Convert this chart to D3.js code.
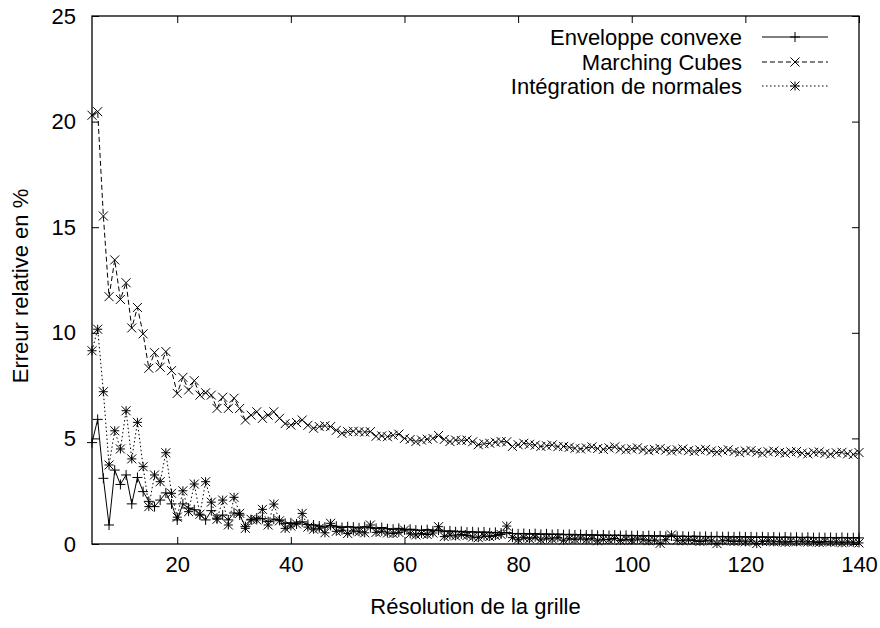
<!DOCTYPE html>
<html><head><meta charset="utf-8">
<script src="https://cdn.jsdelivr.net/npm/d3@7/dist/d3.min.js"></script>
<style>
html,body{margin:0;padding:0;background:#fff;}
svg{display:block;font-family:"Liberation Sans",Arial,Helvetica,sans-serif;}
</style></head>
<body>
<svg id="chart" width="880" height="628"></svg>
<script>
const resolutions = [5,6,7,8,9,10,11,12,13,14,15,16,17,18,19,20,21,22,23,24,25,26,27,28,29,30,31,32,33,34,35,36,37,38,39,40,41,42,43,44,45,46,47,48,49,50,51,52,53,54,55,56,57,58,59,60,61,62,63,64,65,66,67,68,69,70,71,72,73,74,75,76,77,78,79,80,81,82,83,84,85,86,87,88,89,90,91,92,93,94,95,96,97,98,99,100,101,102,103,104,105,106,107,108,109,110,111,112,113,114,115,116,117,118,119,120,121,122,123,124,125,126,127,128,129,130,131,132,133,134,135,136,137,138,139,140];

const enveloppeConvexe = [4.8,5.9,3.11,0.9,3.5,2.82,3.27,1.9,3.15,2.48,2.02,1.77,2.08,2.42,1.9,1.14,1.9,1.7,1.62,1.37,1.14,1.58,1.22,1.37,1.14,1.47,1.37,0.82,1.14,1.23,1.2,1.06,1.18,1.14,0.98,1.0,0.95,1.05,0.92,0.9,0.85,0.8,0.88,0.84,0.78,0.82,0.8,0.76,0.82,0.78,0.74,0.78,0.72,0.7,0.74,0.68,0.7,0.66,0.64,0.68,0.62,0.66,0.6,0.62,0.58,0.6,0.56,0.58,0.55,0.57,0.53,0.55,0.52,0.54,0.5,0.48,0.5,0.47,0.49,0.46,0.48,0.45,0.47,0.44,0.46,0.43,0.45,0.42,0.44,0.41,0.43,0.4,0.42,0.4,0.41,0.39,0.4,0.38,0.4,0.37,0.39,0.36,0.38,0.36,0.37,0.35,0.37,0.35,0.36,0.34,0.36,0.34,0.35,0.33,0.35,0.33,0.34,0.32,0.34,0.32,0.33,0.31,0.33,0.31,0.32,0.3,0.32,0.3,0.31,0.3,0.31,0.29,0.31,0.29,0.3,0.29];

const marchingCubes = [20.3,20.47,15.53,11.71,13.45,11.58,12.37,10.23,11.2,9.95,8.32,9.06,8.37,9.11,8.21,7.13,7.89,7.29,7.73,7.05,7.16,7.05,6.42,6.95,6.42,6.9,6.42,5.87,6.1,6.26,5.95,6.1,6.26,5.95,5.7,5.63,5.75,5.87,5.62,5.48,5.56,5.6,5.56,5.38,5.24,5.32,5.34,5.32,5.3,5.32,5.1,5.12,5.08,5.15,5.2,5.0,4.95,4.85,4.92,4.96,5.0,5.14,4.95,4.85,4.92,4.9,4.92,4.84,4.7,4.75,4.77,4.82,4.85,4.84,4.62,4.7,4.77,4.72,4.68,4.62,4.65,4.69,4.61,4.62,4.58,4.53,4.5,4.55,4.6,4.52,4.48,4.55,4.6,4.5,4.46,4.5,4.55,4.47,4.42,4.48,4.52,4.45,4.4,4.46,4.5,4.42,4.38,4.45,4.48,4.4,4.35,4.42,4.46,4.38,4.33,4.4,4.42,4.35,4.3,4.37,4.4,4.33,4.3,4.36,4.38,4.3,4.27,4.34,4.36,4.29,4.25,4.32,4.34,4.27,4.24,4.33];

const integrationNormales = [9.15,10.17,7.21,3.74,5.36,4.5,6.31,4.03,5.76,3.66,1.77,3.27,2.95,4.32,2.4,1.27,2.52,1.53,2.84,1.41,2.95,1.98,1.17,2.08,0.9,2.21,1.45,0.74,1.17,1.14,1.64,0.9,1.89,1.1,0.74,0.85,0.95,1.45,0.8,0.7,0.75,0.53,0.98,0.6,0.65,0.5,0.62,0.58,0.53,0.9,0.55,0.6,0.52,0.5,0.55,0.66,0.48,0.43,0.5,0.45,0.52,0.82,0.35,0.42,0.38,0.45,0.4,0.33,0.3,0.38,0.35,0.4,0.45,0.85,0.3,0.22,0.3,0.25,0.32,0.2,0.28,0.24,0.3,0.18,0.25,0.22,0.28,0.2,0.25,0.15,0.22,0.2,0.26,0.17,0.22,0.18,0.24,0.2,0.15,0.18,0.03,0.2,0.43,0.18,0.15,0.2,0.16,0.12,0.18,0.14,0.02,0.15,0.18,0.12,0.15,0.1,0.14,0.02,0.12,0.15,0.1,0.13,0.08,0.12,0.1,0.14,0.09,0.11,0.07,0.12,0.09,0.1,0.06,0.1,0.08,0.05];

const seriesNames = ["Enveloppe convexe","Marching Cubes","Intégration de normales"];
const xTicks = [20,40,60,80,100,120,140];
const yTicks = [0,5,10,15,20,25];
const xTitle = "Résolution de la grille";
const yTitle = "Erreur relative en %";

const svg = d3.select("#chart");
const L = 92, R = 859, T = 16, B = 544;
const x = d3.scaleLinear().domain([5,140]).range([L,R]);
const y = d3.scaleLinear().domain([0,25]).range([B,T]);
const FS = 22, TICK = 7;

const series = [
  {name: seriesNames[0], values: enveloppeConvexe, dash: null, marker: "plus"},
  {name: seriesNames[1], values: marchingCubes, dash: "5,3", marker: "cross"},
  {name: seriesNames[2], values: integrationNormales, dash: "1.5,2.5", marker: "star"}
];

function markerPath(type, cx, cy){
  const p = 5, c = 4.5;
  const plus = `M${cx-p},${cy}H${cx+p}M${cx},${cy-p}V${cy+p}`;
  const cross = `M${cx-c},${cy-c}L${cx+c},${cy+c}M${cx-c},${cy+c}L${cx+c},${cy-c}`;
  if(type==="plus") return plus;
  if(type==="cross") return cross;
  return `M${cx-c},${cy}H${cx+c}M${cx},${cy-c}V${cy+c}` + cross;
}

// axes (ticks inside, mirrored)
const gx = svg.append("g").attr("transform",`translate(0,${B})`)
  .call(d3.axisBottom(x).tickValues(xTicks).tickSizeInner(-TICK).tickSizeOuter(0).tickPadding(12));
const gxt = svg.append("g").attr("transform",`translate(0,${T})`)
  .call(d3.axisTop(x).tickValues(xTicks).tickSizeInner(-TICK).tickSizeOuter(0).tickFormat(""));
const gy = svg.append("g").attr("transform",`translate(${L},0)`)
  .call(d3.axisLeft(y).tickValues(yTicks).tickSizeInner(-TICK).tickSizeOuter(0).tickPadding(16));
const gyr = svg.append("g").attr("transform",`translate(${R},0)`)
  .call(d3.axisRight(y).tickValues(yTicks).tickSizeInner(-TICK).tickSizeOuter(0).tickFormat(""));
[gx,gxt,gy,gyr].forEach(g=>{
  g.select(".domain").remove();
  g.selectAll("line").attr("stroke","#000").attr("stroke-width",1);
  g.selectAll("text").attr("font-size",FS).attr("font-family","Liberation Sans, Arial, sans-serif").attr("fill","#000");
});
gx.selectAll("text").attr("dy","0.71em");

svg.append("rect").attr("x",L).attr("y",T).attr("width",R-L).attr("height",B-T)
  .attr("fill","none").attr("stroke","#000").attr("stroke-width",1.3);

const line = d3.line().x((d,i)=>x(resolutions[i])).y(d=>y(d));
const plot = svg.append("g");
series.forEach(s=>{
  plot.append("path").datum(s.values).attr("d",line)
    .attr("fill","none").attr("stroke","#000").attr("stroke-width",1)
    .attr("stroke-dasharray",s.dash);
  plot.append("path")
    .attr("d", s.values.map((v,i)=>markerPath(s.marker,x(resolutions[i]),y(v))).join(""))
    .attr("fill","none").attr("stroke","#000").attr("stroke-width",1);
});

// legend
const legY = [37,62,86];
series.forEach((s,i)=>{
  const g = svg.append("g");
  g.append("text").attr("x",742).attr("y",legY[i]).attr("dy","0.35em")
    .attr("text-anchor","end").attr("font-size",FS).text(s.name);
  g.append("line").attr("x1",762).attr("x2",828).attr("y1",legY[i]).attr("y2",legY[i])
    .attr("stroke","#000").attr("stroke-width",1).attr("stroke-dasharray",s.dash);
  g.append("path").attr("d",markerPath(s.marker,795,legY[i])).attr("stroke","#000").attr("fill","none");
});

svg.append("text").attr("x",(L+R)/2).attr("y",614).attr("text-anchor","middle")
  .attr("font-size",FS).text(xTitle);
svg.append("text").attr("transform",`translate(28,${(T+B)/2+6}) rotate(-90)`)
  .attr("text-anchor","middle").attr("font-size",FS).text(yTitle);
</script>
</body></html>
